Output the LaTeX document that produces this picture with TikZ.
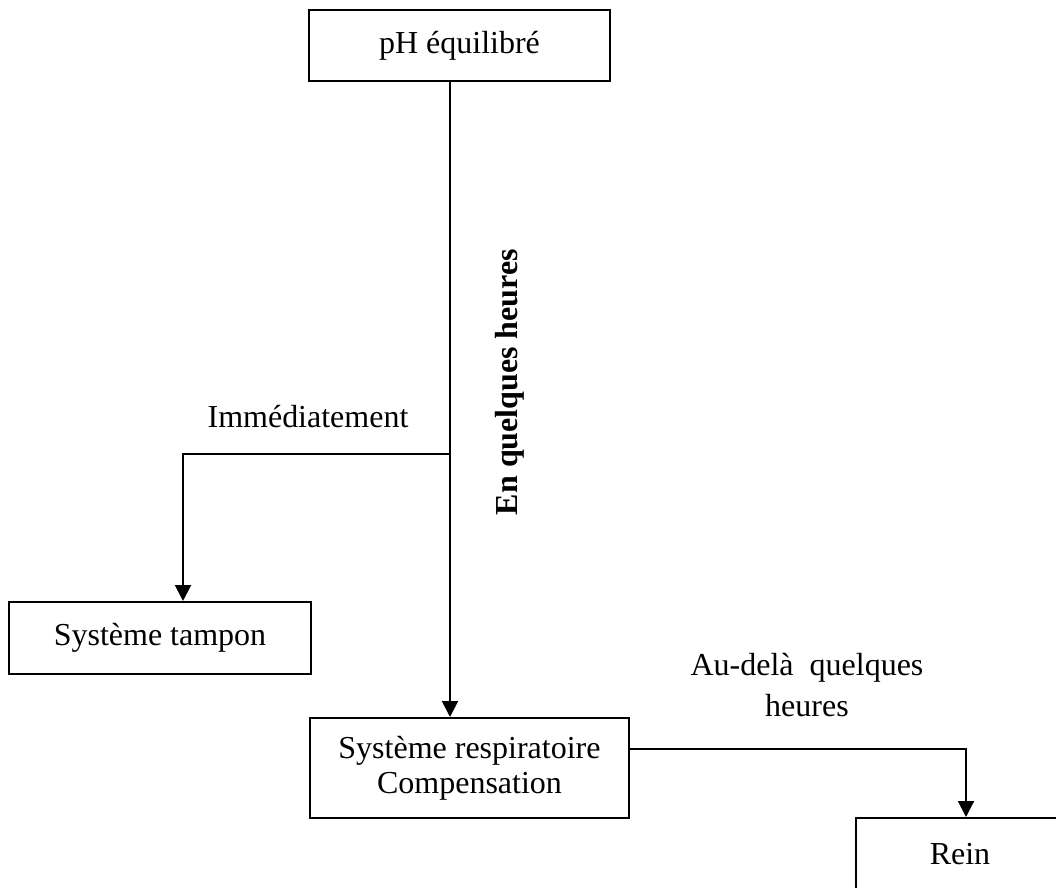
\documentclass[tikz,border=0pt]{standalone}
\usepackage{fontspec}
\setmainfont{Liberation Serif}
\usetikzlibrary{arrows.meta,positioning}

\begin{document}
\begin{tikzpicture}[x=0.5pt, y=-0.5pt, >={Triangle[length=8pt,width=8pt]},
      font=\fontsize{16}{17.5}\selectfont,
      box/.style={draw, line width=1pt, inner sep=0pt, align=center},
      arr/.style={->, line width=1pt}
    ]
    \clip (0,0) rectangle (1056,888);

    \node[box, minimum width=150.5pt, minimum height=35.5pt] (ph) at (459.5,45.5)
          {pH équilibré};
    \node[box, minimum width=151pt, minimum height=36pt] (tampon) at (160,638)
          {Système tampon};
    \node[box, minimum width=159.5pt, minimum height=50pt] (resp) at (469.5,768)
          {Système respiratoire\\Compensation};
    \node[box, minimum width=104pt, minimum height=36pt] (rein) at (960,854)
          {Rein};

    \coordinate (jct) at (450,454);
    \coordinate (coude) at (183,454);
    \coordinate (coude2) at (966,749);

    \draw[arr] (ph.south -| jct) -- (resp.north -| jct);
    \draw[arr] (jct) -- (coude) -- (tampon.north -| coude);
    \draw[arr] (resp.east |- coude2) -- (coude2) -- (rein.north -| coude2);

    \node (immed) at (308,417) {Immédiatement};
    \node[rotate=90, font=\fontsize{16}{17.5}\selectfont\bfseries] (quelques) at (510,382)
          {En quelques heures};
    \node[align=center, font=\fontsize{16}{20.5}\selectfont] (audela) at (807,685)
          {Au-delà\ \ quelques\\heures};
  \end{tikzpicture}
\end{document}
